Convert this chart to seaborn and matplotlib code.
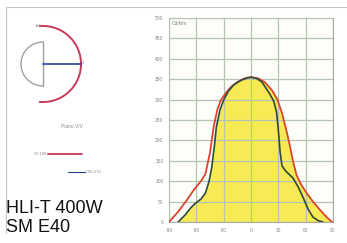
import numpy as np
import pandas as pd
import seaborn as sns
from matplotlib import pyplot as plt
from matplotlib.lines import Line2D

# photometric curve, C0-180 plane (red)
ang_c0 = [-90, -80, -70, -63, -55, -50, -45, -41, -37, -33, -27, -22, -15, -8, 0,
          8, 15, 23, 29, 34, 38, 42, 46, 50, 55, 61, 68, 76, 83, 89]
cd_c0 = [0, 25, 55, 78, 100, 118, 170, 233, 275, 299, 318, 331, 343, 351, 355,
         352, 343, 323, 300, 267, 232, 194, 150, 115, 92, 71, 50, 29, 12, 0]

# C90-270 plane (dark)
ang_c90 = [-80, -72, -66, -61, -55, -50, -46, -43, -40, -38, -34, -30, -25, -19, -12, -5, 0,
           6, 12, 20, 25, 28, 30, 32, 34, 38, 46, 52, 57, 63, 68, 74, 79]
cd_c90 = [0, 18, 35, 46, 56, 71, 100, 135, 190, 233, 275, 299, 320, 336, 346, 353, 355,
          352, 343, 316, 296, 270, 225, 170, 138, 125, 108, 85, 61, 30, 12, 3, 0]

x_ticks = [-90, -60, -30, 0, 30, 60, 90]
y_ticks = [0, 50, 100, 150, 200, 250, 300, 350, 400, 450, 500]

df0 = pd.DataFrame({'ang': ang_c0, 'cd': cd_c0})
df90 = pd.DataFrame({'ang': ang_c90, 'cd': cd_c90})

sns.set_style('white')
plt.rcParams['font.family'] = ['Liberation Sans', 'DejaVu Sans']

fig = plt.figure(figsize=(3.47, 2.43), dpi=100)

# outer frame lines
fig.add_artist(Line2D([6/347, 1], [1-7/243, 1-7/243], color='#c4c4c4', lw=0.8))
fig.add_artist(Line2D([6/347, 6/347], [1-7/243, 1-233/243], color='#c4c4c4', lw=0.8))

ax = fig.add_axes([169/347, 21/243, 164/347, 204/243])
ax.set_facecolor('#fdfefa')

# yellow area: dark plane on the left half, red plane on the right half
left = df90[df90['ang'] <= 0]
right = df0[df0['ang'] >= 0]
ax.fill_between(left['ang'], 0, left['cd'], color='#f7ea55', lw=0, zorder=1)
ax.fill_between(right['ang'], 0, right['cd'], color='#f7ea55', lw=0, zorder=1)

sns.lineplot(data=df0, x='ang', y='cd', ax=ax, color='#d8462c', lw=1.3, zorder=3)
sns.lineplot(data=df90, x='ang', y='cd', ax=ax, color='#2e4a3c', lw=1.2, zorder=4)

ax.set_xlim(-90, 90)
ax.set_ylim(0, 500)
ax.set_xticks(x_ticks)
ax.set_yticks(y_ticks)
ax.set_xticklabels([str(v) for v in x_ticks], fontsize=3.5, color='#888888')
ax.set_yticklabels([str(v) for v in y_ticks], fontsize=3.5, color='#888888')
ax.tick_params(length=0, pad=4)
ax.grid(True, color='#b4c4b0', lw=0.9, zorder=2)
ax.set_axisbelow(False)
for s in ax.spines.values():
    s.set_color('#a8a8a8')
    s.set_linewidth(0.8)
ax.set_xlabel('')
ax.set_ylabel('')
ax.text(-87, 492, 'Cd/klm', fontsize=3.5, color='#888888', va='top', zorder=5)

# small polar thumbnail
axp = fig.add_axes([0.0, 1-112/243, 100/347, 95/243], frameon=False)
axp.set_xlim(0, 100)
axp.set_ylim(0, 95)
axp.set_aspect('equal')
axp.set_xticks([])
axp.set_yticks([])
cx, cy = 43, 48
t = np.radians(np.linspace(90, 270, 60))
axp.plot(cx + 22*np.cos(t), cy + 22*np.sin(t), color='#a0a0a0', lw=1.0)
axp.plot([cx, cx], [cy-22, cy+22], color='#a0a0a0', lw=1.0)
t = np.radians(np.linspace(-95, 95, 80))
axp.plot(cx + 38*np.cos(t), cy + 38*np.sin(t), color='#c8385a', lw=1.4)
axp.plot([cx, cx+38], [cy, cy], color='#2a3f9a', lw=1.2)
axp.text(cx+39, cy+1, '0', fontsize=3, color='#888888', va='center')
axp.text(cx-8, cy+38, '180', fontsize=3, color='#888888', va='center')

fig.text(72/347, 1-127/243, 'Piano V/V', fontsize=3.5, color='#888888', ha='center', va='center')
fig.text(47/347, 1-154/243, 'C0-180', fontsize=3, color='#888888', ha='right', va='center')
fig.add_artist(Line2D([48/347, 82/347], [1-154/243, 1-154/243], color='#c8385a', lw=1.3))
fig.add_artist(Line2D([68/347, 85/347], [1-172/243, 1-172/243], color='#2a3f9a', lw=0.8))
fig.text(86/347, 1-172/243, 'C90-270', fontsize=3, color='#888888', ha='left', va='center')

fig.text(6/347, 1-208/243, 'HLI-T 400W', fontsize=13, color='#111111', va='center')
fig.text(6/347, 1-228/243, 'SM E40', fontsize=13, color='#111111', va='center')

plt.savefig('out.png', dpi=100)
